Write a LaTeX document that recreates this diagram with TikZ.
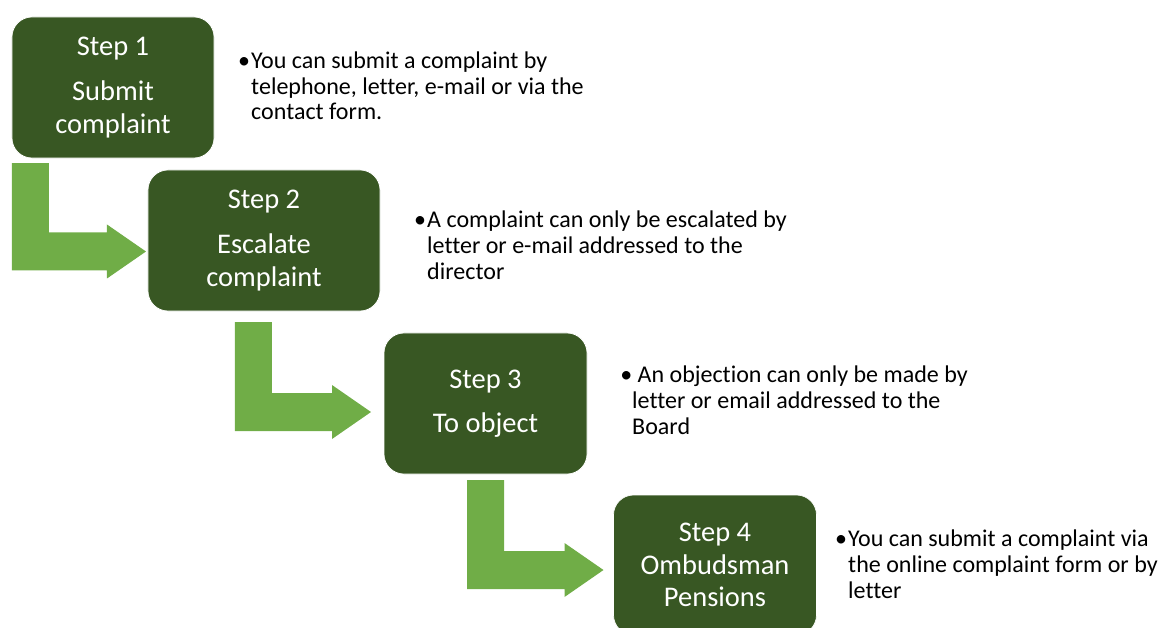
\documentclass[tikz,border=0pt]{standalone}
\usepackage{fontspec}
\setmainfont{Carlito}[Ligatures=NoCommon]
\usetikzlibrary{calc}

\definecolor{boxgreen}{HTML}{385723}
\definecolor{arrowgreen}{HTML}{70AD47}

\tikzset{
  stepbox/.style={fill=boxgreen, draw=white, line width=0.6pt, rounded corners=0.6cm,
    minimum height=4.23cm, inner sep=0pt, outer sep=0pt, align=center, text=white,
    font=\fontsize{24.3}{28}\selectfont},
  notetext/.style={anchor=base west, inner sep=0pt, align=left,
    font=\fontsize{20.5}{21.8}\selectfont}
}

\newcommand{\bentarrow}[2]{%
  \fill[arrowgreen] (#1) -- ++(37,0) |- ($(#2)+(-39,-19)$) -- ++(0,-8) -- (#2)
    -- ($(#2)+(-39,27)$) -- ++(0,-8) -| (#1) -- cycle;
}

\begin{document}
\begin{tikzpicture}[x=0.03cm,y=-0.03cm]
\useasboundingbox (0,0) rectangle (1158,628);

\node[stepbox, minimum width=6.06cm] (s1) at (113,87.5) {Step 1\\[10pt]Submit\\complaint};
\node[stepbox, minimum width=6.96cm] (s2) at (264,240.5) {Step 2\\[10pt]Escalate\\complaint};
\node[stepbox, minimum width=6.09cm] (s3) at (485.5,403.5) {Step 3\\[10pt]To object};
\node[stepbox, minimum width=6.09cm, minimum height=4.2cm] (s4) at (715,565) {Step 4\\Ombudsman\\Pensions};

\coordinate (a1) at ([shift={(0,5)}]s1.south west);
\coordinate (t1) at ([shift={(-2,11)}]s2.west);
\coordinate (a2) at ([shift={(87,11)}]s2.south west);
\coordinate (t2) at ([shift={(-13,8.5)}]s3.west);
\coordinate (a3) at ([shift={(83,6)}]s3.south west);
\coordinate (t3) at ([shift={(-10,5)}]s4.west);

\bentarrow{a1}{t1}
\bentarrow{a2}{t2}
\bentarrow{a3}{t3}

% base anchor sits on the last line
\node[notetext] (n1) at (251,120) {\llap{•\kern1pt}You can submit a complaint by\\telephone, letter, e-mail or via the\\contact form.};
\node[notetext] (n2) at (427,279) {\llap{•\kern1pt}A complaint can only be escalated by\\letter or e-mail addressed to the\\director};
\node[notetext] (n3) at (632,434) {\llap{•}\ An objection can only be made by\\letter or email addressed to the\\Board};
\node[notetext] (n4) at (848,598) {\llap{•\kern1pt}You can submit a complaint via\\the online complaint form or by\\letter};
\end{tikzpicture}
\end{document}
